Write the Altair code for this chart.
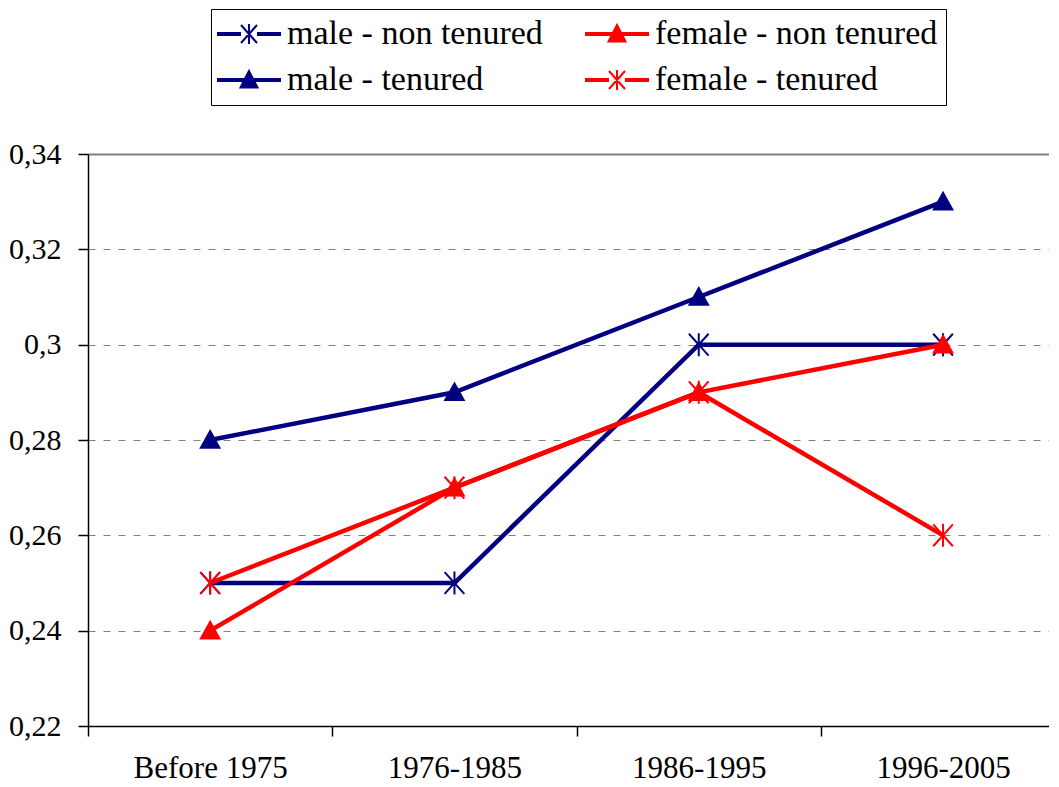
import altair as alt
import pandas as pd

periods = ["Before 1975", "1976-1985", "1986-1995", "1996-2005"]
series_names = ["male - non tenured", "female - non tenured", "male - tenured", "female - tenured"]
male_non_tenured = [0.25, 0.25, 0.30, 0.30]
female_non_tenured = [0.24, 0.27, 0.29, 0.30]
male_tenured = [0.28, 0.29, 0.31, 0.33]
female_tenured = [0.25, 0.27, 0.29, 0.26]
series_colors = ["#000080", "#FF0000", "#000080", "#FF0000"]
y_ticks = [0.22, 0.24, 0.26, 0.28, 0.30, 0.32, 0.34]

AST = "M-0.9,-1L0.9,1M-0.9,1L0.9,-1M0,-1.05L0,1.05"
TRI = "M0,-1L1,0.8L-1,0.8Z"
series_marker = {"male - non tenured": AST, "female - non tenured": TRI,
                 "male - tenured": TRI, "female - tenured": AST}

LEG_AST = ("M-3.1,-0.1H-0.9V0.1H-3.1Z M0.9,-0.1H3.1V0.1H0.9Z "
           "M-0.8,-0.9L0.8,0.9 M-0.8,0.9L0.8,-0.9 M0,-1V1")
LEG_TRI = "M-3.1,-0.1H3.1V0.1H-3.1Z M0,-0.9L0.85,0.75L-0.85,0.75Z"
legend_shapes = [LEG_AST, LEG_TRI, LEG_TRI, LEG_AST]

rows = []
for s, vals in zip(series_names, [male_non_tenured, female_non_tenured, male_tenured, female_tenured]):
    for i, (p, v) in enumerate(zip(periods, vals)):
        rows.append({"series": s, "period": p, "pos": i + 0.5, "value": v,
                     "order": series_names.index(s)})
df = pd.DataFrame(rows)

W, H = 961, 572
band = 244.3
FONT = "Liberation Serif"

label_expr = " : ".join(
    [f"datum.value == {i} ? '{p}'" for i, p in enumerate(periods)]) + " : ''"

x_enc = alt.X("pos:Q", scale=alt.Scale(domain=[0, W / band], nice=False, zero=False),
              axis=alt.Axis(values=[0, 1, 2, 3], labelExpr=label_expr, labelOffset=band / 2,
                            labelFlush=False, labelOverlap=False, grid=False, title=None,
                            tickSize=10, labelPadding=17, labelFontSize=31))
y_enc = alt.Y("value:Q", scale=alt.Scale(domain=[0.22, 0.34], nice=False, zero=False),
              axis=alt.Axis(values=y_ticks, title=None, tickSize=10, labelPadding=17,
                            labelFontSize=30,
                            labelExpr="replace(toString(round(datum.value*100)/100), '.', ',')",
                            grid=True, gridColor="#808080",
                            gridDash={"condition": {"test": "datum.value > 0.335", "value": []},
                                      "value": [7, 8]},
                            gridWidth={"condition": {"test": "datum.value > 0.335", "value": 2},
                                       "value": 1}))

# reversed order so this (legend-less) colour scale is not merged with the legend scales
color_scale = alt.Scale(domain=series_names[::-1], range=series_colors[::-1])

lines = alt.Chart(df).mark_line(strokeWidth=4.5).encode(
    x=x_enc, y=y_enc,
    color=alt.Color("series:N", scale=color_scale, legend=None),
    detail="series:N",
)

point_layers = []
for s in series_names:
    m = series_marker[s]
    if m == TRI:
        mk = alt.Chart(df).transform_filter(alt.datum.series == s).mark_point(
            shape=TRI, filled=True, opacity=1, size=480)
    else:
        mk = alt.Chart(df).transform_filter(alt.datum.series == s).mark_point(
            shape=AST, filled=False, opacity=1, strokeWidth=2, size=480)
    point_layers.append(mk.encode(
        x=x_enc, y=y_enc,
        color=alt.Color("series:N", scale=color_scale, legend=None)))

leg = alt.Legend(title=None, orient="none", legendX=123, legendY=-145, columns=2,
                 direction="horizontal",
                 symbolSize=400, symbolStrokeWidth=2, labelFontSize=34, labelFont=FONT,
                 labelColor="black", symbolOffset=13, labelOffset=21, columnPadding=39,
                 rowPadding=12, strokeColor="black", padding=8, labelLimit=500,
                 symbolOpacity=1)

legend_layer = alt.Chart(df).mark_point(
    opacity=0, strokeWidth=2, filled=False).encode(
    shape=alt.Shape("series:N", scale=alt.Scale(domain=series_names, range=legend_shapes), legend=leg),
    stroke=alt.Stroke("series:N", scale=alt.Scale(domain=series_names, range=series_colors), legend=leg),
    fill=alt.Fill("series:N", scale=alt.Scale(domain=series_names, range=series_colors), legend=leg),
)

chart = alt.layer(lines, *point_layers, legend_layer).properties(
    width=W, height=H, padding={"left": 0, "top": 0, "right": 0, "bottom": 0}
).configure_view(
    strokeWidth=0
).configure_axis(
    labelFont=FONT, labelColor="black", domainColor="black", domainWidth=1.5,
    tickColor="black", tickWidth=1.5
).configure_legend(
    labelFont=FONT, labelFontSize=34, labelColor="black"
)

chart.save("out.html", embed_options={"renderer": "svg", "actions": False})
